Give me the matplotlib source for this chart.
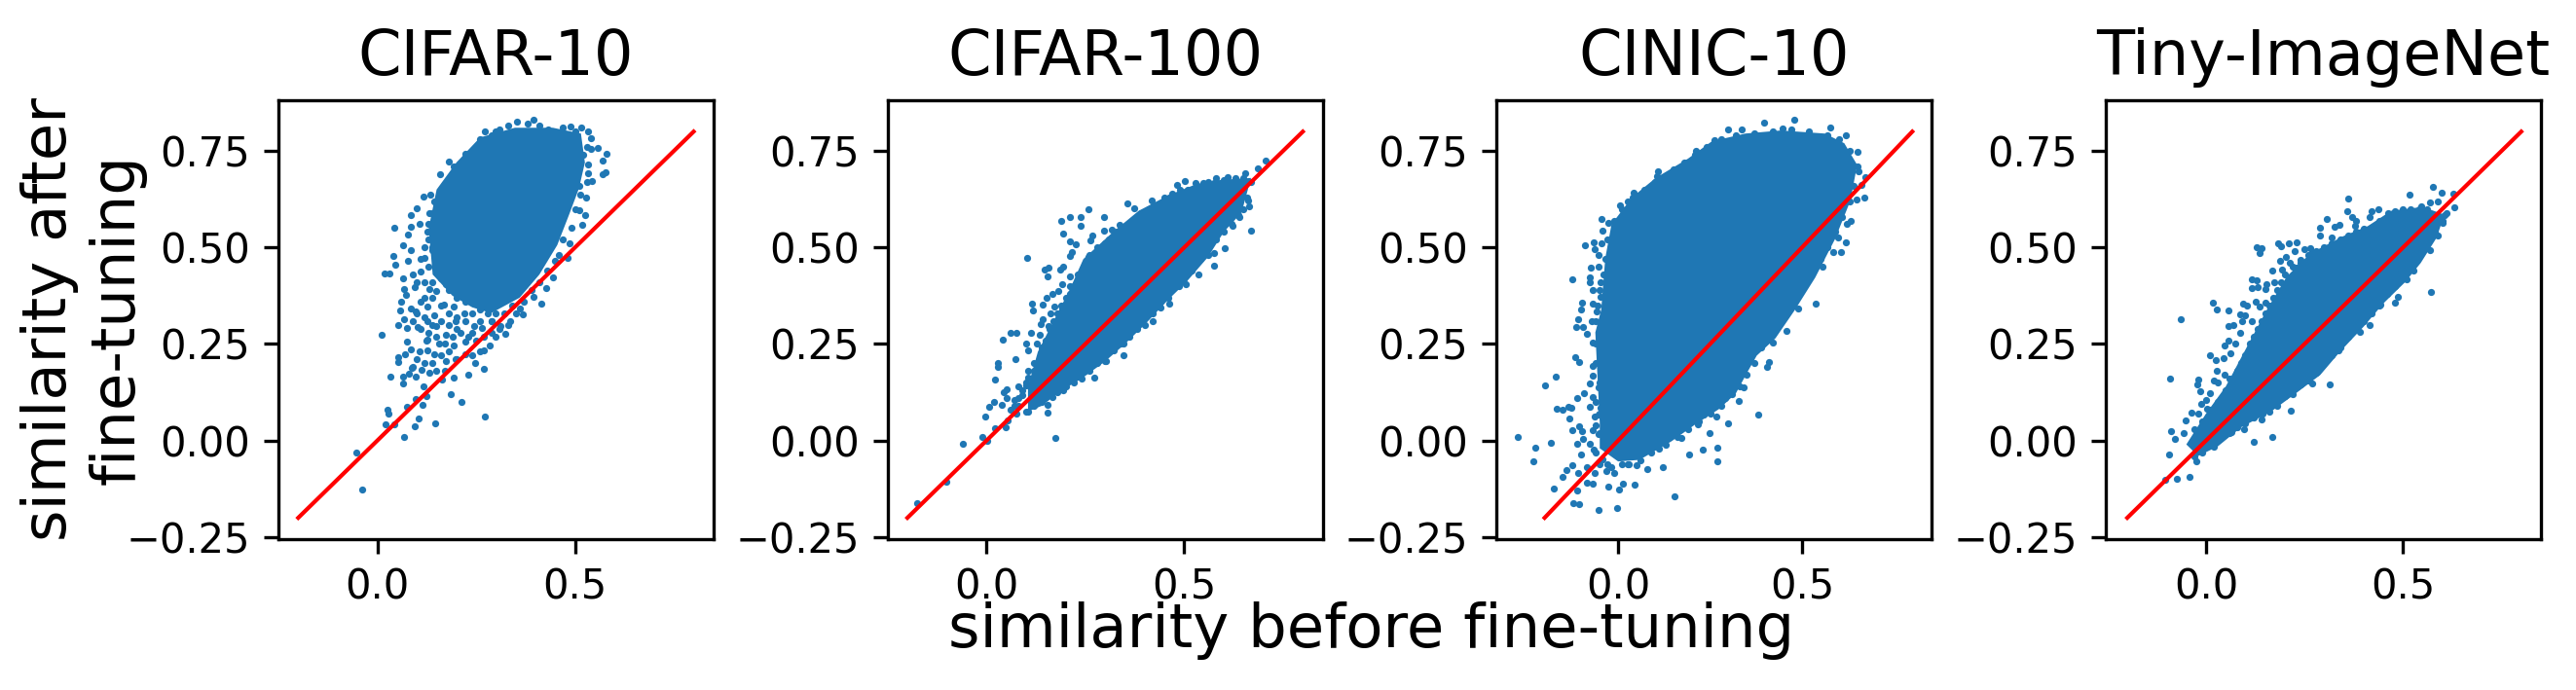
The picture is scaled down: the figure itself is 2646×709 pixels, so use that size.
"""Similarity before/after fine-tuning, one scatter panel per dataset."""
import numpy as np
import matplotlib
matplotlib.use('Agg')
import matplotlib.pyplot as plt

TITLES = ['CIFAR-10', 'CIFAR-100', 'CINIC-10', 'Tiny-ImageNet']
XLIMS = [(-0.25, 0.85), (-0.25, 0.85), (-0.33, 0.853), (-0.254, 0.85)]
YLIM = (-0.254, 0.8825)
X_TICKS = [0.0, 0.5]
Y_TICKS = [-0.25, 0.0, 0.25, 0.5, 0.75]
DIAG = [-0.2, 0.8]

# outline of the solid part of each cloud (before, after)
cifar10_core = [
    (.13, .55), (.15, .65), (.2, .72), (.26, .785), (.348, .81), (.444, .81),
    (.515, .795), (.525, .72), (.51, .653), (.485, .585), (.455, .506), (.41, .43),
    (.36, .37), (.288, .33), (.24, .345), (.19, .375), (.14, .43),
]
cifar100_core = [
    (.105, .14), (.13, .23), (.165, .30), (.21, .39), (.245, .47), (.32, .54),
    (.385, .595), (.46, .635), (.533, .665), (.593, .675), (.669, .68), (.645, .59),
    (.6, .54), (.56, .475), (.505, .41), (.46, .365), (.4, .3), (.35, .25),
    (.3, .205), (.24, .16), (.19, .13), (.14, .09), (.105, .075),
]
cinic10_core = [
    (-.05, .047), (-.062, .28), (-.046, .339), (-.035, .472), (-.018, .56), (.038, .63),
    (.102, .68), (.19, .73), (.255, .775), (.346, .795), (.443, .803), (.562, .795),
    (.615, .77), (.65, .714), (.632, .622), (.59, .522), (.536, .422), (.482, .34),
    (.428, .265), (.377, .22), (.352, .178), (.32, .122), (.275, .082), (.21, .042),
    (.145, -.002), (.058, -.05), (0, -.054), (-.05, -.02),
]
tiny_core = [
    (-.05, -.01), (.0, .07), (.05, .14), (.105, .245), (.155, .34), (.205, .425),
    (.265, .485), (.35, .53), (.41, .555), (.47, .595), (.55, .605), (.605, .585),
    (.585, .525), (.545, .46), (.505, .41), (.45, .355), (.4, .295), (.34, .23),
    (.29, .17), (.225, .12), (.165, .075), (.09, .035), (.03, -.015), (-.02, -.04),
]

# separately visible points around the solid part
cifar10_points = [
    (-.053, -.031), (-.038, -.126), (.01, .273), (.067, .01), (.147, .045), (.271, .062),
    (.212, .10), (.185, .12), (.094, .038), (.104, .057), (.022, .043), (.042, .042),
    (.025, .079), (.028, .07), (.074, .087), (.098, .107), (.115, .092), (.124, .115),
    (.116, .141), (.229, .17), (.269, .186), (.247, .20), (.193, .163), (.163, .157),
    (.034, .165), (.052, .217), (.054, .204), (.064, .149), (.065, .166), (.079, .172),
    (.096, .166), (.088, .187), (.112, .183), (.132, .175), (.07, .223), (.084, .236),
    (.106, .231), (.126, .234), (.074, .257), (.124, .259), (.076, .291), (.102, .293),
    (.054, .30), (.068, .313), (.06, .359), (.058, .338), (.084, .342), (.096, .334),
    (.068, .393), (.072, .376), (.094, .398), (.12, .37), (.066, .421), (.019, .433),
    (.031, .433), (.046, .455), (.041, .477), (.084, .494), (.078, .466), (.09, .429),
    (.11, .438), (.064, .506), (.043, .551), (.078, .534), (.086, .553), (.085, .585),
    (.1, .602), (.108, .562), (.131, .588), (.118, .633), (.134, .636), (.159, .689),
    (.18, .723), (.164, .647), (.144, .619), (.126, .54), (.138, .494), (.12, .472),
    (.156, .438), (.174, .404), (.132, .393), (.15, .387), (.168, .353), (.126, .347),
    (.144, .325), (.192, .347), (.222, .359), (.126, .308), (.15, .296), (.198, .308),
    (.222, .308), (.246, .296), (.174, .274), (.126, .262), (.156, .251), (.192, .245),
    (.222, .257), (.264, .291), (.288, .308), (.30, .268), (.324, .277), (.285, .245),
    (.27, .234), (.144, .223), (.174, .206), (.198, .212), (.222, .223), (.312, .296),
    (.336, .308), (.36, .342), (.369, .328), (.396, .373), (.415, .355), (.426, .395),
    (.444, .423), (.48, .472), (.45, .466), (.486, .511), (.518, .559), (.525, .585),
    (.51, .596), (.528, .63), (.513, .636), (.543, .673), (.534, .692), (.576, .695),
    (.57, .689), (.57, .726), (.579, .743), (.558, .758), (.54, .754), (.534, .715),
    (.516, .811), (.489, .813), (.534, .80), (.54, .783), (.396, .831), (.354, .826),
    (.273, .80), (.30, .80), (.222, .743), (.192, .709), (.432, .805),
]
cifar100_points = [
    (-.175, -.162), (-.102, -.106), (-.061, -.008), (-.011, .01), (.001, -.001), (.021, .033),
    (-.004, .063), (.006, .088), (.018, .101), (.049, .034), (.053, .051), (.173, .008),
    (.154, .073), (.154, .093), (.106, .076), (.076, .069), (.039, .093), (.043, .126),
    (.051, .132), (.021, .158), (.03, .201), (.03, .19), (.072, .21), (.042, .261),
    (.06, .28), (.076, .28), (.112, .278), (.101, .25), (.128, .25), (.135, .274),
    (.104, .234), (.121, .201), (.106, .18), (.106, .163), (.081, .14), (.101, .143),
    (.051, .109), (.071, .105), (.091, .118), (.167, .113), (.195, .13), (.273, .163),
    (.302, .205), (.347, .22), (.322, .234), (.347, .25), (.42, .309), (.44, .345),
    (.463, .354), (.505, .405), (.488, .401), (.535, .43), (.576, .453), (.603, .497),
    (.576, .485), (.668, .543), (.637, .585), (.664, .607), (.662, .622), (.623, .555),
    (.707, .726), (.687, .704), (.653, .691), (.61, .683), (.576, .666), (.501, .671),
    (.483, .662), (.548, .668), (.528, .666), (.418, .621), (.463, .629), (.357, .613),
    (.373, .601), (.259, .598), (.239, .58), (.21, .578), (.19, .568), (.239, .555),
    (.298, .578), (.195, .535), (.212, .515), (.227, .508), (.268, .53), (.262, .518),
    (.317, .547), (.337, .558), (.297, .543), (.103, .473), (.217, .489), (.21, .479),
    (.257, .476), (.187, .443), (.194, .451), (.157, .447), (.147, .443), (.155, .425),
    (.212, .426), (.192, .405), (.237, .422), (.212, .401), (.167, .38), (.182, .387),
    (.152, .37), (.142, .351), (.116, .354), (.118, .337), (.172, .347), (.162, .33),
    (.142, .314), (.137, .301), (.157, .297), (.192, .339), (.237, .405),
]
cinic10_points = [
    (-.273, .01), (-.226, -.018), (-.231, -.053), (-.184, -.005), (-.2, .143), (-.171, .165),
    (-.167, .083), (-.152, .08), (-.135, .087), (-.127, .086), (-.133, .058), (-.125, .028),
    (-.111, .111), (-.078, .088), (-.065, .062), (-.054, .068), (-.107, .038), (-.097, .024),
    (-.111, -.008), (-.096, .005), (-.1, -.035), (-.125, -.063), (-.14, -.077), (-.152, -.093),
    (-.175, -.125), (-.112, -.13), (-.123, -.162), (-.107, -.165), (-.053, -.18), (-.003, -.175),
    (-.027, -.12), (.002, -.127), (.012, -.111), (.046, -.115), (.152, -.145), (.079, -.075),
    (.121, -.07), (.192, -.035), (.23, -.023), (.271, -.018), (.271, -.053), (.248, .02),
    (.298, .045), (.268, .061), (.38, .068), (.329, .103), (.292, .111), (.404, .19),
    (.409, .204), (.457, .284), (.537, .355), (.489, .343), (.586, .488), (.605, .488),
    (.618, .513), (.597, .525), (.632, .57), (.621, .56), (.67, .63), (.648, .624),
    (.661, .662), (.673, .681), (.655, .698), (.65, .748), (.619, .791), (.578, .811),
    (.478, .831), (.398, .823), (.448, .808), (.335, .805), (.298, .806), (.261, .778),
    (.211, .751), (.151, .703), (.108, .697), (.106, .685), (.041, .643), (.005, .608),
    (.027, .62), (-.045, .574), (-.027, .564), (-.043, .543), (-.089, .505), (-.066, .513),
    (-.046, .51), (-.063, .495), (-.054, .48), (-.075, .447), (-.054, .451), (-.125, .418),
    (-.078, .422), (-.076, .41), (-.049, .41), (-.07, .39), (-.049, .372), (-.097, .358),
    (-.1, .339), (-.07, .355), (-.059, .334), (-.108, .314), (-.113, .295), (-.095, .295),
    (-.073, .309), (-.086, .276), (-.069, .254), (-.117, .215), (-.107, .204), (-.07, .193),
    (-.07, .168), (-.049, .218), (-.032, .18), (-.078, .147), (-.054, .138), (-.092, .122),
    (-.07, .113), (-.043, .113), (-.049, .084), (-.07, .026), (-.054, .018), (-.076, -.008),
    (-.067, -.024), (-.043, -.049), (-.086, -.068), (-.108, -.083), (-.086, -.108), (-.07, -.112),
    (-.065, -.083), (-.032, -.078), (-.011, -.083), (.027, -.062), (.049, -.064), (.173, .007),
    (.216, .043), (.232, .068), (.34, .138), (.421, .255), (.497, .389), (.556, .451),
]
tiny_points = [
    (-.104, -.101), (-.074, -.098), (-.041, -.093), (-.025, -.053), (-.095, -.035), (-.088, .025),
    (-.08, .005), (-.057, .02), (-.053, .053), (-.092, .16), (-.063, .315), (-.013, .095),
    (.003, .083), (-.038, .073), (-.02, .07), (-.02, .157), (-.023, .145), (-.016, .128),
    (.01, .123), (0, .105), (.019, .155), (.03, .151), (.027, .18), (.046, .17),
    (.011, .22), (.025, .209), (.044, .214), (.046, .247), (.056, .258), (.074, .251),
    (.061, .226), (.018, .358), (.026, .34), (.058, .338), (.093, .354), (.105, .349),
    (.086, .328), (.099, .324), (.058, .296), (.068, .299), (.091, .309), (.086, .28),
    (.117, .309), (.127, .36), (.135, .347), (.15, .358), (.115, .418), (.128, .416),
    (.117, .395), (.132, .397), (.15, .393), (.152, .405), (.168, .44), (.173, .41),
    (.129, .501), (.142, .497), (.137, .486), (.183, .51), (.211, .51), (.229, .513),
    (.191, .504), (.249, .495), (.224, .491), (.188, .466), (.203, .475), (.213, .46),
    (.239, .468), (.193, .443), (.229, .447), (.269, .489), (.264, .497), (.29, .551),
    (.307, .575), (.29, .53), (.325, .554), (.338, .558), (.32, .526), (.362, .626),
    (.359, .593), (.371, .58), (.381, .568), (.379, .555), (.414, .58), (.42, .593),
    (.438, .6), (.462, .589), (.457, .564), (.401, .549), (.517, .638), (.576, .658),
    (.599, .643), (.627, .639), (.63, .603), (.569, .616), (.547, .607), (.589, .618),
    (.605, .583), (.6, .564), (.588, .53), (.569, .493), (.571, .385), (.526, .44),
    (.51, .418), (.48, .358), (.488, .372), (.442, .351), (.414, .3), (.391, .282),
    (.335, .233), (.315, .145), (.27, .148), (.216, .078), (.169, .01), (.122, -.003),
    (.097, .03), (.142, .055), (.144, .069), (.064, .022),
]

# points packed along the edge of the solid part
cifar10_rim = [
    (.09, .31), (.11, .29), (.13, .28), (.15, .27), (.17, .25), (.19, .27), (.21, .28),
    (.23, .27), (.25, .26), (.27, .27), (.29, .28), (.31, .29), (.33, .30), (.35, .33),
    (.37, .36), (.39, .39), (.41, .41), (.43, .44), (.46, .48), (.47, .52), (.49, .55),
    (.5, .6), (.51, .66), (.53, .67), (.52, .74), (.53, .76), (.5, .8), (.47, .81),
    (.41, .815), (.38, .82), (.33, .815), (.31, .805), (.29, .79), (.26, .78), (.25, .75),
    (.23, .73), (.21, .71), (.2, .69), (.18, .67), (.16, .64), (.15, .62), (.14, .59),
    (.13, .56), (.13, .52), (.14, .5), (.12, .5), (.11, .47), (.13, .45), (.1, .41),
    (.12, .41), (.14, .41), (.16, .42), (.18, .39), (.2, .37), (.11, .36), (.14, .37),
    (.16, .35), (.18, .33), (.2, .32), (.22, .33), (.24, .33), (.26, .34), (.28, .33),
    (.3, .33), (.32, .33), (.34, .35), (.16, .31), (.18, .3), (.14, .3), (.2, .29),
    (.24, .28), (.26, .31), (.29, .31), (.12, .32), (.1, .33), (.16, .22), (.18, .23),
    (.2, .21), (.24, .22), (.26, .23), (.14, .2), (.12, .2), (.1, .21), (.09, .19),
    (.17, .18), (.15, .18),
]
cifar100_rim = [
    (.12, .18), (.13, .2), (.14, .24), (.15, .26), (.16, .29), (.17, .31), (.18, .33),
    (.19, .35), (.2, .37), (.21, .38), (.22, .4), (.23, .43), (.25, .46), (.26, .48),
    (.28, .5), (.3, .51), (.31, .52), (.33, .54), (.35, .55), (.37, .57), (.39, .59),
    (.41, .6), (.43, .61), (.45, .63), (.47, .64), (.49, .65), (.51, .65), (.53, .66),
    (.56, .67), (.58, .68), (.6, .675), (.63, .68), (.65, .68), (.67, .67), (.1, .075),
    (.12, .09), (.14, .1), (.16, .125), (.18, .125), (.2, .14), (.22, .15), (.24, .16),
    (.26, .18), (.28, .2), (.3, .205), (.32, .24), (.34, .25), (.36, .27), (.38, .29),
    (.4, .3), (.42, .33), (.44, .36), (.46, .37), (.48, .4), (.5, .42), (.52, .44),
    (.54, .47), (.56, .48), (.58, .52), (.6, .54), (.62, .56), (.64, .58), (.65, .6),
    (.66, .63), (.07, .09), (.08, .11), (.09, .13), (.1, .15), (.08, .09), (.06, .08),
]
cinic10_rim = [
    (-.06, .25), (-.06, .2), (-.05, .15), (-.06, .1), (-.05, .07), (-.06, .04), (-.05, .02),
    (-.06, -.03), (-.05, -.06), (-.03, -.06), (-.02, -.07), (.01, -.06), (.03, -.06),
    (.06, -.05), (.09, -.03), (.11, -.02), (.13, -.01), (.16, .01), (.19, .03), (.22, .05),
    (.25, .07), (.28, .09), (.31, .12), (.33, .14), (.35, .17), (.37, .2), (.39, .24),
    (.41, .27), (.43, .3), (.45, .33), (.47, .36), (.49, .38), (.51, .41), (.53, .44),
    (.55, .47), (.57, .5), (.59, .54), (.61, .58), (.63, .62), (.64, .66), (.65, .71),
    (.63, .75), (.6, .78), (.57, .79), (.52, .8), (.47, .805), (.42, .8), (.37, .795),
    (.32, .79), (.28, .78), (.24, .76), (.21, .74), (.18, .72), (.14, .69), (.1, .67),
    (.07, .65), (.04, .63), (.01, .6), (-.01, .57), (-.03, .52), (-.035, .47), (-.04, .43),
    (-.05, .39), (-.055, .35), (-.06, .31),
]
tiny_rim = [
    (-.03, .03), (-.01, .05), (.01, .08), (.03, .1), (.05, .13), (.06, .16), (.08, .18),
    (.09, .2), (.1, .22), (.11, .25), (.12, .27), (.13, .29), (.14, .31), (.15, .33),
    (.16, .35), (.17, .37), (.18, .39), (.19, .41), (.2, .43), (.22, .45), (.24, .46),
    (.26, .48), (.28, .49), (.3, .5), (.32, .51), (.34, .52), (.36, .53), (.38, .54),
    (.4, .545), (.42, .55), (.44, .57), (.46, .58), (.48, .595), (.5, .6), (.52, .6),
    (.54, .6), (.56, .6), (-.03, -.04), (-.01, -.03), (.02, -.015), (.04, .01), (.06, .02),
    (.08, .035), (.1, .045), (.12, .06), (.14, .07), (.16, .075), (.18, .09), (.2, .115),
    (.22, .12), (.24, .145), (.26, .155), (.28, .175), (.3, .2), (.32, .22), (.34, .24),
    (.36, .27), (.38, .29), (.4, .31), (.42, .33), (.44, .35), (.46, .38), (.48, .4),
    (.5, .42), (.52, .46), (.54, .48), (.56, .51), (.58, .54), (.6, .57), (.61, .59),
]

CORES = [cifar10_core, cifar100_core, cinic10_core, tiny_core]
POINTS = [cifar10_points + cifar10_rim, cifar100_points + cifar100_rim,
          cinic10_points + cinic10_rim, tiny_points + tiny_rim]


def main():
    fig, axes = plt.subplots(1, 4, figsize=(8.82, 709 / 300), dpi=300)
    fig.subplots_adjust(left=286 / 2646, right=2610 / 2646, top=1 - 102.5 / 709,
                        bottom=1 - 553.5 / 709, wspace=179 / 447)

    for ax, title, xlim, core, pts in zip(axes, TITLES, XLIMS, CORES, POINTS):
        core = np.array(core)
        pts = np.array(pts)
        ax.fill(core[:, 0], core[:, 1], color='C0', lw=0)
        ax.scatter(pts[:, 0], pts[:, 1], s=3, color='C0', linewidths=0)
        ax.plot(DIAG, DIAG, color='red', lw=1)
        ax.set_xlim(xlim)
        ax.set_ylim(YLIM)
        ax.set_xticks(X_TICKS)
        ax.set_yticks(Y_TICKS)
        ax.set_title(title, fontsize=15.3)

    axes[0].set_ylabel('similarity after\nfine-tuning', fontsize=15)
    axes[0].yaxis.set_label_coords(-0.304, 0.5)
    fig.text(1409 / 2646, 1 - 648 / 709, 'similarity before fine-tuning',
             fontsize=15, ha='center', va='center')
    fig.savefig('out.png', dpi=300)
    plt.close(fig)


if __name__ == '__main__':
    main()
